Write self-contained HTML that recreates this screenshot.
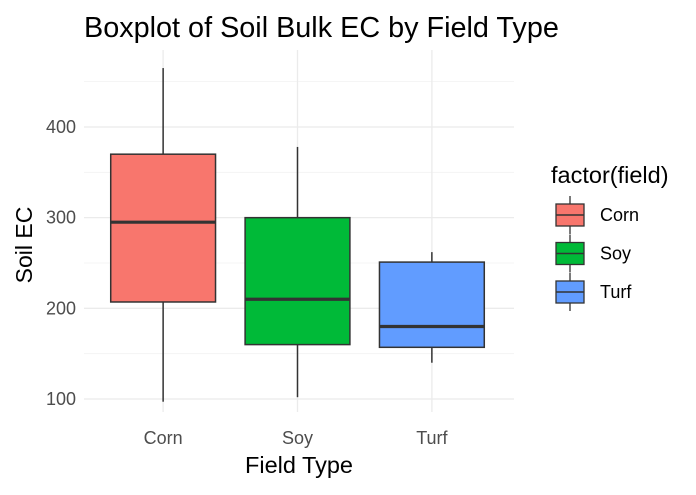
<!DOCTYPE html>
<html><head><meta charset="utf-8"><style>
body{margin:0;background:#fff;font-family:"Liberation Sans",sans-serif}
</style></head><body>
<svg id="chart" width="696" height="490" xmlns="http://www.w3.org/2000/svg" font-family="Liberation Sans, sans-serif">
<rect width="696" height="490" fill="#fff"/>
<text x="84" y="37" font-size="28.8" fill="#000">Boxplot of Soil Bulk EC by Field Type</text>
<g id="grid"></g>
<g id="boxes"></g>
<g id="axes"></g>
<text x="299" y="473" font-size="23.5" text-anchor="middle" fill="#000">Field Type</text>
<text transform="translate(32,245) rotate(-90)" font-size="23" text-anchor="middle" fill="#000">Soil EC</text>
<g id="legend"></g>
</svg>
<script>
const categories=["Corn","Soy","Turf"];
const colors=["#F8766D","#00BA38","#619CFF"];
const whiskerLow=[97,102,140];
const q1=[207,160,157];
const median=[295,210,180];
const q3=[370,300,251];
const whiskerHigh=[465,378,262];
const yTicks=[100,200,300,400];
const yMinor=[150,250,350,450];
const NS="http://www.w3.org/2000/svg";
const x0=84,x1=514;
const unit=(x1-x0)/(categories.length+0.2);
function xs(i){return x0+unit*(i+0.6)-1.5;}
function ys(v){return 399-(v-100)*0.9067;}
function mk(tag,attrs,parent){const e=document.createElementNS(NS,tag);for(const k in attrs)e.setAttribute(k,attrs[k]);parent.appendChild(e);return e;}
const grid=document.getElementById('grid'),boxes=document.getElementById('boxes'),axes=document.getElementById('axes'),legend=document.getElementById('legend');
yMinor.forEach(v=>{const l=mk('line',{x1:x0,x2:x1,y1:ys(v),y2:ys(v),stroke:'#f2f2f2','stroke-width':0.8},grid);

});
yTicks.forEach(v=>{const l=mk('line',{x1:x0,x2:x1,y1:ys(v),y2:ys(v),stroke:'#ebebeb','stroke-width':1.3},grid);


const t=mk('text',{x:76,y:ys(v)+6,'font-size':18,'text-anchor':'end',fill:'#4d4d4d'},axes);t.textContent=v;

});
categories.forEach((c,i)=>{const l=mk('line',{x1:xs(i),x2:xs(i),y1:50,y2:412,stroke:'#ebebeb','stroke-width':1.3},grid);


const t=mk('text',{x:xs(i),y:444,'font-size':18,'text-anchor':'middle',fill:'#4d4d4d'},axes);t.textContent=c;


const g=mk('g',{},boxes);


const w=unit*0.78,cx=xs(i);
mk('line',{x1:cx,x2:cx,y1:ys(whiskerHigh[i]),y2:ys(q3[i]),stroke:'#333','stroke-width':1.5},g);
mk('line',{x1:cx,x2:cx,y1:ys(q1[i]),y2:ys(whiskerLow[i]),stroke:'#333','stroke-width':1.5},g);
mk('rect',{x:cx-w/2,y:ys(q3[i]),width:w,height:ys(q1[i])-ys(q3[i]),fill:colors[i],stroke:'#333','stroke-width':1.5},g);
mk('line',{x1:cx-w/2,x2:cx+w/2,y1:ys(median[i]),y2:ys(median[i]),stroke:'#333','stroke-width':3.2},g);});
const lt=mk('text',{x:551,y:183,'font-size':23.5,fill:'#000'},legend);lt.textContent='factor(field)';


categories.forEach((c,i)=>{const y=200+i*38.5;const g=mk('g',{},legend);


mk('line',{x1:570,x2:570,y1:y-4,y2:y+34,stroke:'#333','stroke-width':1.3},g);
mk('rect',{x:556,y:y+4,width:28,height:22,fill:colors[i],stroke:'#333','stroke-width':1.3},g);
mk('line',{x1:556,x2:584,y1:y+15,y2:y+15,stroke:'#333','stroke-width':1.5},g);
const t=mk('text',{x:600,y:y+21,'font-size':18,fill:'#000'},g);t.textContent=c;});
</script>
</body></html>
